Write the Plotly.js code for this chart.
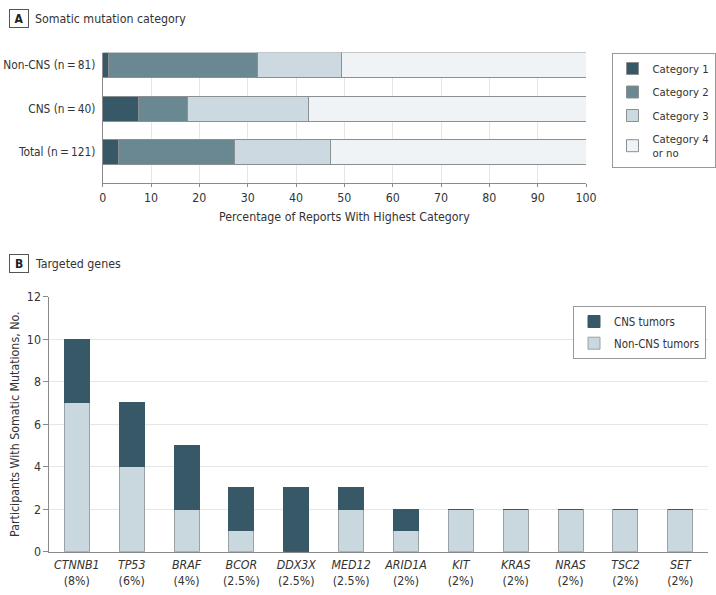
<!DOCTYPE html>
<html><head><meta charset="utf-8">
<script src="https://cdn.plot.ly/plotly-3.0.1.min.js"></script>
<style>html,body{margin:0;padding:0;background:#fff;}</style>
</head><body><div id="chart" style="width:716px;height:595px;"></div>
<script>
// Panel A data (percent of reports)
const groupsA = ['Non-CNS (n\u2009=\u200981)', 'CNS (n\u2009=\u200940)', 'Total (n\u2009=\u2009121)'];
const cat1 = [1.2, 7.5, 3.3];
const cat2 = [30.9, 10.0, 24.0];
const cat3 = [17.3, 25.0, 19.8];
const cat4 = [50.6, 57.5, 52.9];
const catNames = ['Category 1', 'Category 2', 'Category 3', 'Category 4<br>or no'];

// Panel B data (participants)
const genes = ['CTNNB1','TP53','BRAF','BCOR','DDX3X','MED12','ARID1A','KIT','KRAS','NRAS','TSC2','SET'];
const genePct = ['8%','6%','4%','2.5%','2.5%','2.5%','2%','2%','2%','2%','2%','2%'];
const nonCNS = [7, 4, 2, 1, 0, 2, 1, 2, 2, 2, 2, 2];
const cns = [3, 3, 3, 2, 3, 1, 1, 0, 0, 0, 0, 0];

const FONT = '"DejaVu Sans Condensed", "Liberation Sans Narrow", "Liberation Sans", sans-serif';
const TXT = '#333';
const FS = 12.3;
const W = 716, H = 595;
const px = v => v / W;
const py = v => 1 - v / H;

const colA = ['#375866', '#6a8892', '#ccd9e0', '#eff3f6'];
const seriesA = [cat1, cat2, cat3, cat4];
const traces = [];
seriesA.forEach((s, i) => {
  traces.push({
    type: 'bar', orientation: 'h', x: s, y: groupsA, name: catNames[i],
    xaxis: 'x', yaxis: 'y', width: 0.575,
    marker: {color: colA[i], line: {color: '#8a8f92', width: 1}},
    legend: 'legend', legendgroup: 'a' + i, hoverinfo: 'x+name'
  });
});
const geneLabels = genes.map((g, i) => '<i>' + g + '</i><br>(' + genePct[i] + ')');
traces.push({
  type: 'bar', x: geneLabels, y: nonCNS, name: 'Non-CNS tumors', xaxis: 'x2', yaxis: 'y2',
  width: 0.456, marker: {color: '#c9d8df', line: {color: '#9aa2a6', width: 1}},
  legend: 'legend2', legendgroup: 'b1', legendrank: 2
});
traces.push({
  type: 'bar', x: geneLabels, y: cns, name: 'CNS tumors', xaxis: 'x2', yaxis: 'y2',
  width: 0.456, marker: {color: '#375866', line: {color: '#375866', width: 1}},
  legend: 'legend2', legendgroup: 'b0', legendrank: 1
});

const layout = {
  width: W, height: H, margin: {l: 0, r: 0, t: 0, b: 0, autoexpand: false},
  paper_bgcolor: '#fff', plot_bgcolor: '#fff',
  font: {family: FONT, size: FS, color: TXT},
  barmode: 'stack', bargap: 0,
  showlegend: true,
  xaxis: {
    domain: [px(102.7), px(586)], anchor: 'y', range: [0, 100], dtick: 10, automargin: false,
    showgrid: true, gridcolor: '#e6e6e6', zeroline: false,
    showline: true, linecolor: '#8a8a8a', ticks: 'outside', ticklen: 3, tickcolor: '#8a8a8a',
    tickfont: {size: FS, color: TXT},
    title: {text: 'Percentage of Reports With Highest Category', font: {size: FS, color: TXT}, standoff: 8}
  },
  yaxis: {
    domain: [py(183), py(52.5)], anchor: 'x', type: 'category', automargin: false,
    categoryorder: 'array', categoryarray: groupsA, range: [2.71, -0.29],
    showline: true, linecolor: '#8a8a8a', showgrid: false, ticks: '', ticklabelstandoff: 4,
    tickfont: {size: 11.8, color: TXT}
  },
  xaxis2: {
    domain: [px(49.4), px(707.7)], anchor: 'y2', type: 'category', range: [-0.5, 11.5], automargin: false,
    showline: true, linecolor: '#8a8a8a', ticks: '', showgrid: false, ticklabelstandoff: 2,
    tickfont: {size: FS, color: TXT}
  },
  yaxis2: {
    domain: [py(551.7), py(296.7)], anchor: 'x2', range: [0, 12], dtick: 2, automargin: false,
    showgrid: true, gridcolor: '#e6e6e6', zeroline: false,
    showline: true, linecolor: '#8a8a8a', ticks: 'outside', ticklen: 5, tickcolor: '#8a8a8a',
    tickfont: {size: FS, color: TXT},
    title: {text: 'Participants With Somatic Mutations, No.', font: {size: FS, color: TXT}, standoff: 4}
  },
  legend: {
    x: px(715.5), y: py(53), xanchor: 'right', yanchor: 'top',
    bgcolor: '#fff', bordercolor: '#999', borderwidth: 1,
    font: {size: 11.3, color: TXT}, tracegroupgap: 4.5, traceorder: 'grouped'
  },
  legend2: {
    x: px(706), y: py(306), xanchor: 'right', yanchor: 'top',
    bgcolor: '#fff', bordercolor: '#999', borderwidth: 1,
    font: {size: 11.4, color: TXT}, tracegroupgap: 2.7, traceorder: 'grouped'
  },
  annotations: [
    {xref: 'paper', yref: 'paper', x: px(18.5), y: py(18.5), text: '<b>A</b>', showarrow: false,
     xanchor: 'center', yanchor: 'middle', font: {size: 12, color: '#222'},
     bordercolor: '#555', borderwidth: 1, borderpad: 2, width: 14, height: 13},
    {xref: 'paper', yref: 'paper', x: px(33), y: py(18.5), text: 'Somatic mutation category', showarrow: false,
     xanchor: 'left', yanchor: 'middle', font: {size: FS, color: TXT}},
    {xref: 'paper', yref: 'paper', x: px(18.5), y: py(263.5), text: '<b>B</b>', showarrow: false,
     xanchor: 'center', yanchor: 'middle', font: {size: 12, color: '#222'},
     bordercolor: '#555', borderwidth: 1, borderpad: 2, width: 14, height: 13},
    {xref: 'paper', yref: 'paper', x: px(33), y: py(263.5), text: 'Targeted genes', showarrow: false,
     xanchor: 'left', yanchor: 'middle', font: {size: FS, color: TXT}}
  ]
};

Plotly.newPlot('chart', traces, layout, {displayModeBar: false, staticPlot: true});
</script></body></html>
